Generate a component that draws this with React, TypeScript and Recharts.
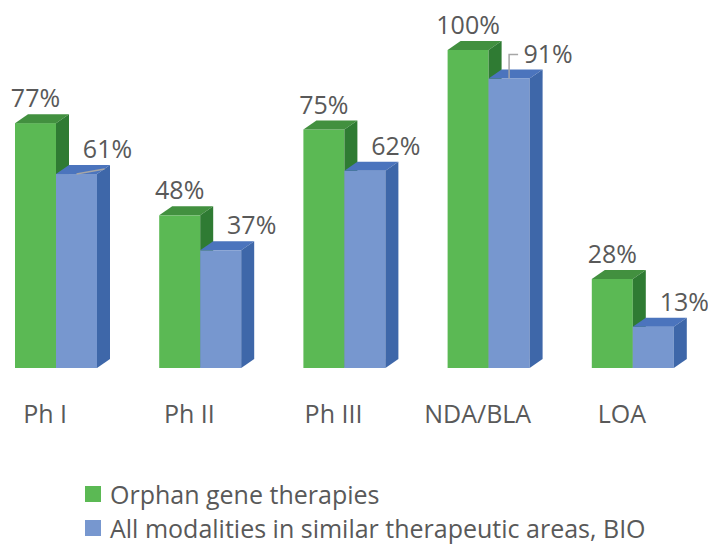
import { BarChart, Bar, XAxis, YAxis, LabelList } from 'recharts'

const phases = ['Ph I', 'Ph II', 'Ph III', 'NDA/BLA', 'LOA']
const orphanGene = [77, 48, 75, 100, 28]
const allModalities = [61, 37, 62, 91, 13]
// which blue labels get a leader line in the original
const leaders: Record<string, 'diag' | 'elbow'> = { 'Ph I': 'diag', 'NDA/BLA': 'elbow' }

const data = phases.map((p, i) => ({ phase: p, orphan: orphanGene[i], all: allModalities[i] }))

const CHART_W = 724
const CHART_H = 440
const MARGIN = { top: 50, right: 3, bottom: 12, left: 0 }
const AXIS_H = 60
const PLOT_BOTTOM = CHART_H - MARGIN.bottom - AXIS_H
const DX = 13
const DY = 9
const TEXT = '#595959'
const FONT = '"Open Sans", sans-serif'
const FS = 25

const green = { front: '#5bb954', top: '#42903f', side: '#2f7b33' }
const blue = { front: '#7797cf', top: '#4b74bd', side: '#3e67a9' }

function Box3D(props: any) {
  const { x, y, width, height, colors } = props
  if (!height || height <= 0) return null
  const r = x + width
  const b = y + height
  return (
    <g>
      <rect x={x} y={y} width={width} height={height} fill={colors.front} />
      <polygon
        points={`${x},${y} ${x + DX},${y - DY} ${r + DX},${y - DY} ${r},${y}`}
        fill={colors.top}
      />
      <polygon
        points={`${r},${y} ${r + DX},${y - DY} ${r + DX},${b - DY} ${r},${b}`}
        fill={colors.side}
      />
    </g>
  )
}

function GreenLabel(props: any) {
  const { x, y, width, value } = props
  return (
    <text x={x + width / 2} y={y - 16} textAnchor="middle" fill={TEXT} fontSize={FS} fontFamily={FONT}>
      {value}%
    </text>
  )
}

function BlueLabel(props: any) {
  const { x, y, width, value, index } = props
  const cx = x + width / 2
  const kind = leaders[phases[index]]
  const lx = cx + (kind === 'elbow' ? 39 : 31)
  const base = y - 16
  return (
    <g>
      {kind === 'diag' && (
        <line x1={cx} y1={y} x2={lx - 3} y2={base + 11} stroke="#a6a6a6" strokeWidth={1.5} />
      )}
      {kind === 'elbow' && (
        <polyline
          points={`${cx},${y} ${cx},${base - 8} ${lx - 30},${base - 8}`}
          fill="none"
          stroke="#a6a6a6"
          strokeWidth={1.5}
        />
      )}
      <text x={lx} y={base} textAnchor="middle" fill={TEXT} fontSize={FS} fontFamily={FONT}>
        {value}%
      </text>
    </g>
  )
}

function PhaseTick(props: any) {
  const { x, payload } = props
  return (
    <text x={x - 11} y={PLOT_BOTTOM + 55} textAnchor="middle" fill={TEXT} fontSize={FS} fontFamily={FONT}>
      {payload.value}
    </text>
  )
}

function LegendRow({ color, label }: { color: string; label: string }) {
  return (
    <div style={{ display: 'flex', alignItems: 'center', height: 34 }}>
      <span style={{ width: 16, height: 16, background: color, marginRight: 9 }} />
      <span>{label}</span>
    </div>
  )
}

export default function App() {
  return (
    <div style={{ position: 'absolute', left: 0, top: 0, width: 708, height: 546, background: '#fff', overflow: 'hidden' }}>
      <div style={{ position: 'absolute', left: -16, top: 0 }}>
        <BarChart width={CHART_W} height={CHART_H} data={data} margin={MARGIN} barGap={0} barSize={41}>
          <XAxis dataKey="phase" axisLine={false} tickLine={false} height={AXIS_H} tick={<PhaseTick />} interval={0} />
          <YAxis hide domain={[0, 100]} />
          <Bar dataKey="orphan" name="Orphan gene therapies" isAnimationActive={false} shape={<Box3D colors={green} />}>
            <LabelList dataKey="orphan" content={<GreenLabel />} />
          </Bar>
          <Bar dataKey="all" name="All modalities in similar therapeutic areas, BIO" isAnimationActive={false} shape={<Box3D colors={blue} />}>
            <LabelList dataKey="all" content={<BlueLabel />} />
          </Bar>
        </BarChart>
      </div>
      <div style={{ position: 'absolute', left: 85, top: 477, fontFamily: FONT, fontSize: FS, color: TEXT, lineHeight: 1 }}>
        <LegendRow color={green.front} label="Orphan gene therapies" />
        <LegendRow color={blue.front} label="All modalities in similar therapeutic areas, BIO" />
      </div>
    </div>
  )
}
